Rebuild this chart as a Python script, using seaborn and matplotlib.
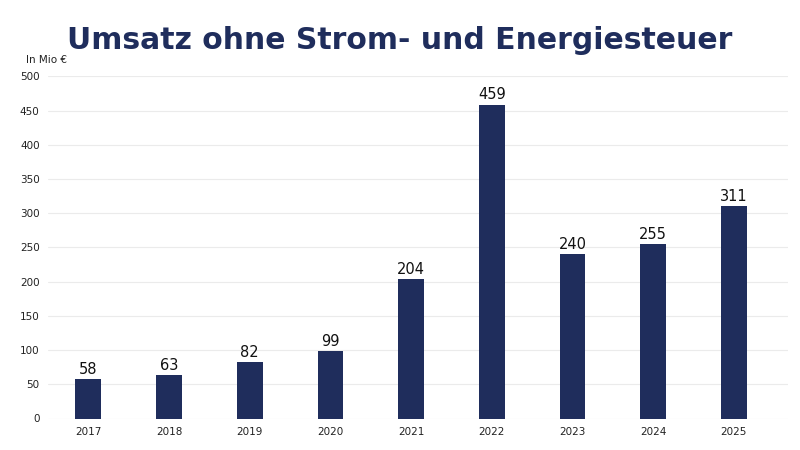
import matplotlib
matplotlib.use("Agg")
import matplotlib.pyplot as plt
import seaborn as sns
import pandas as pd

years = ["2017", "2018", "2019", "2020", "2021", "2022", "2023", "2024", "2025"]
values = [58, 63, 82, 99, 204, 459, 240, 255, 311]
yticks = [0, 50, 100, 150, 200, 250, 300, 350, 400, 450, 500]

sns.set_theme(style="white")
plt.rcParams['font.family'] = ['DejaVu Sans']

navy = "#1f2d5c"
df = pd.DataFrame({"Jahr": years, "Umsatz": values})

fig = plt.figure(figsize=(8, 4.5), dpi=100)
ax = fig.add_axes([0.06, 0.07, 0.925, 0.76])
sns.barplot(data=df, x="Jahr", y="Umsatz", color=navy, width=0.32, saturation=1,
            linewidth=0, ax=ax)

ax.set_ylim(0, 500)
ax.set_yticks(yticks)
ax.set_xlim(-0.5, 8.67)
ax.grid(axis="y", color="#ebebeb", linewidth=0.8)
ax.set_axisbelow(True)
for s in ax.spines.values():
    s.set_visible(False)
ax.tick_params(axis="both", labelsize=7.5, colors="#222222", length=0, pad=6)
ax.set_xlabel("")
ax.set_ylabel("")

for i, v in enumerate(values):
    ax.text(i, v + 3, str(v), ha="center", va="bottom", fontsize=10.5, color="#111111")

fig.text(0.033, 0.855, "In Mio €", fontsize=7.5, color="#222222", ha="left", va="bottom")
fig.text(0.5, 0.91, "Umsatz ohne Strom- und Energiesteuer", fontsize=21.5, fontweight="bold",
         color=navy, ha="center", va="center")

fig.savefig("out.png", dpi=100)
